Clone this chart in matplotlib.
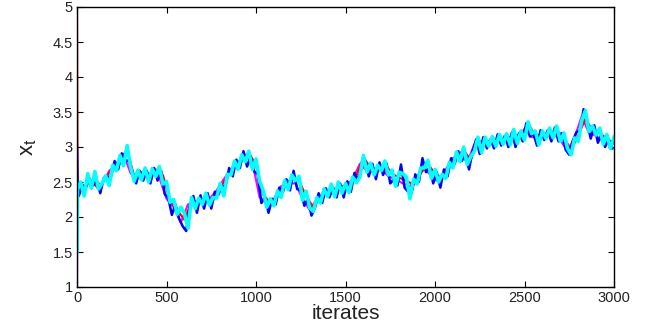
import numpy as np
import matplotlib
matplotlib.use("Agg")
import matplotlib.pyplot as plt

plt.rcParams['font.family'] = ['Liberation Sans', 'DejaVu Sans']

# iterate grids (first point is the start value, second is right after the transient)
iters_cyan = np.concatenate([[0, 3], np.arange(20, 3001, 20)])
iters_blue = np.concatenate([[0, 3], np.arange(10, 3001, 20)])
iters_red = np.concatenate([[0, 3], np.arange(40, 3001, 40)])
iters_magenta = np.concatenate([[0, 3], np.arange(20, 3001, 40)])

cyan_vals = [1.50, 2.40,
    2.50, 2.30, 2.62, 2.41, 2.65, 2.40, 2.48, 2.59, 2.45, 2.74,
    2.66, 2.88, 2.73, 3.02, 2.71, 2.51, 2.67, 2.53, 2.70, 2.50,
    2.69, 2.58, 2.72, 2.47, 2.51, 2.21, 2.25, 2.04, 2.14, 2.05,
    1.84, 2.28, 2.12, 2.27, 2.18, 2.34, 2.17, 2.28, 2.27, 2.48,
    2.30, 2.61, 2.60, 2.80, 2.68, 2.89, 2.79, 2.94, 2.68, 2.83,
    2.51, 2.38, 2.14, 2.26, 2.16, 2.37, 2.28, 2.52, 2.39, 2.60,
    2.52, 2.58, 2.24, 2.37, 2.13, 2.08, 2.28, 2.20, 2.40, 2.29,
    2.47, 2.29, 2.50, 2.34, 2.48, 2.35, 2.57, 2.49, 2.57, 2.88,
    2.64, 2.77, 2.60, 2.74, 2.66, 2.80, 2.60, 2.67, 2.44, 2.64,
    2.62, 2.57, 2.26, 2.54, 2.47, 2.70, 2.70, 2.81, 2.55, 2.68,
    2.50, 2.61, 2.55, 2.78, 2.70, 2.93, 2.79, 3.00, 2.75, 2.86,
    2.94, 3.14, 2.92, 3.14, 3.01, 3.15, 3.01, 3.18, 3.04, 3.19,
    3.03, 3.25, 3.05, 3.23, 3.10, 3.36, 3.19, 3.23, 3.03, 3.23,
    3.12, 3.27, 3.13, 3.30, 3.08, 3.20, 2.98, 2.89, 3.13, 3.08,
    3.38, 3.52, 3.22, 3.30, 3.17, 3.27, 3.04, 3.18, 2.98, 3.14]

blue_vals = [3.00, 2.45,
    2.30, 2.46, 2.42, 2.55, 2.45, 2.52, 2.34, 2.56, 2.57, 2.58,
    2.80, 2.68, 2.91, 2.80, 2.81, 2.64, 2.48, 2.66, 2.52, 2.66,
    2.48, 2.70, 2.52, 2.66, 2.33, 2.27, 2.03, 2.18, 1.98, 1.87,
    1.80, 2.16, 2.30, 2.06, 2.31, 2.12, 2.34, 2.12, 2.36, 2.32,
    2.44, 2.45, 2.70, 2.58, 2.82, 2.70, 2.94, 2.72, 2.86, 2.65,
    2.61, 2.20, 2.28, 2.06, 2.26, 2.18, 2.42, 2.35, 2.54, 2.38,
    2.66, 2.40, 2.38, 2.16, 2.26, 2.02, 2.14, 2.34, 2.20, 2.41,
    2.28, 2.42, 2.28, 2.48, 2.28, 2.51, 2.36, 2.63, 2.52, 2.72,
    2.80, 2.58, 2.76, 2.54, 2.78, 2.60, 2.76, 2.48, 2.54, 2.45,
    2.75, 2.42, 2.36, 2.35, 2.61, 2.50, 2.84, 2.64, 2.71, 2.48,
    2.64, 2.42, 2.68, 2.58, 2.84, 2.76, 2.94, 2.80, 2.91, 2.68,
    2.94, 3.11, 2.90, 3.14, 2.98, 3.11, 2.98, 3.18, 3.02, 3.16,
    3.00, 3.21, 3.00, 3.20, 3.08, 3.34, 3.15, 3.19, 3.02, 3.24,
    3.10, 3.24, 3.08, 3.28, 3.08, 3.20, 2.96, 2.89, 3.09, 3.21,
    3.24, 3.54, 3.36, 3.12, 3.31, 3.06, 3.18, 3.00, 3.11, 2.98]

red_vals = [5.00, 2.45,
    2.44, 2.52, 2.40, 2.56, 2.70, 2.82, 2.96, 2.58, 2.64, 2.56,
    2.68, 2.60, 2.22, 2.10, 1.96, 2.22, 2.20, 2.28, 2.24, 2.42,
    2.58, 2.72, 2.84, 2.92, 2.74, 2.32, 2.20, 2.30, 2.48, 2.54,
    2.52, 2.30, 2.14, 2.30, 2.36, 2.40, 2.44, 2.46, 2.58, 2.86,
    2.70, 2.68, 2.76, 2.62, 2.56, 2.52, 2.46, 2.62, 2.76, 2.62,
    2.55, 2.72, 2.88, 2.95, 2.82, 3.08, 3.08, 3.08, 3.12, 3.12,
    3.18, 3.16, 3.34, 3.16, 3.18, 3.20, 3.24, 3.14, 2.96, 3.16,
    3.40, 3.24, 3.20, 3.12, 3.05]

magenta_vals = [1.00, 2.40,
    2.38, 2.48, 2.50, 2.46, 2.66, 2.76, 2.90, 2.62, 2.56, 2.62,
    2.62, 2.56, 2.26, 2.14, 1.92, 2.18, 2.22, 2.22, 2.26, 2.38,
    2.54, 2.68, 2.78, 2.86, 2.78, 2.28, 2.22, 2.26, 2.44, 2.48,
    2.48, 2.26, 2.10, 2.26, 2.34, 2.34, 2.40, 2.44, 2.54, 2.76,
    2.66, 2.64, 2.68, 2.58, 2.54, 2.48, 2.44, 2.58, 2.70, 2.58,
    2.50, 2.68, 2.84, 2.90, 2.78, 3.04, 3.04, 3.04, 3.08, 3.08,
    3.12, 3.12, 3.26, 3.14, 3.14, 3.16, 3.20, 3.10, 2.94, 3.14,
    3.44, 3.20, 3.16, 3.08, 3.06]

fig = plt.figure(figsize=(6.47, 3.25), dpi=100)
ax = fig.add_axes([77/647, 38/325, 537/647, 280/325])

ax.plot(iters_magenta, magenta_vals, color='#ff00ff', lw=1.5)
ax.plot(iters_red, red_vals, color='#ff0000', lw=1.5)
ax.plot(iters_blue, blue_vals, color='#0000ff', lw=1.8)
ax.plot(iters_cyan, cyan_vals, color='#00ffff', lw=2.6)

ax.set_xlim(0, 3000)
ax.set_ylim(1, 5)
ax.set_xticks(np.arange(0, 3001, 500))
ax.set_yticks(np.arange(1, 5.01, 0.5))
ax.set_yticklabels(['1', '1.5', '2', '2.5', '3', '3.5', '4', '4.5', '5'])
ax.tick_params(direction='in', top=True, right=True, length=4, width=0.8,
               labelsize=10.5, pad=3, labelcolor='#222222')
for s in ax.spines.values():
    s.set_linewidth(1.0)

ax.set_xlabel('iterates', fontsize=15, labelpad=-1, color='#222222')
ax.set_ylabel(r'$\mathregular{x_t}$', fontsize=16, labelpad=10, color='#222222')

fig.savefig('out.png', dpi=100)
